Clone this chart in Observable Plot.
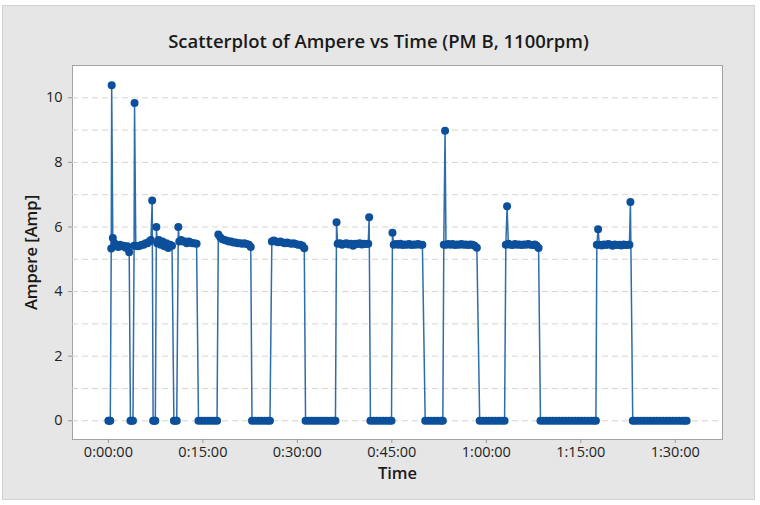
<!DOCTYPE html>
<html>
<head>
<meta charset="utf-8">
<script src="https://cdn.jsdelivr.net/npm/d3@7"></script>
<script src="https://cdn.jsdelivr.net/npm/@observablehq/plot@0.6"></script>
<style>
  html, body { margin: 0; padding: 0; background: #ffffff; }
  #wrap { position: relative; width: 760px; height: 505px; overflow: hidden; font-family: "Open Sans", "Noto Sans", sans-serif; }
  #panel { position: absolute; left: 2px; top: 5px; width: 751px; height: 493px; background: #e6e6e6; border: 1px solid #d2d2d2; }
  #title { position: absolute; left: 0; top: 0; width: 757px; height: 55px; box-sizing: border-box; padding-top: 30px;
           text-align: center; font-size: 18.5px; font-weight: 600; line-height: 22px; color: #1a1a1a; }
  #chart { position: absolute; left: 0; top: 55px; }
</style>
</head>
<body>
<div id="wrap">
  <div id="panel"></div>
  <div id="title">Scatterplot of Ampere vs Time (PM B, 1100rpm)</div>
  <div id="chart"></div>
</div>
<script>
// Time in minutes from start; Ampere readings
const times = [
  0, 0.15, 0.3,
  0.45, 0.52, 0.7, 0.95, 1.25, 1.55, 1.85, 2.15, 2.45, 2.75, 3.0, 3.3,
  3.5, 3.7, 3.9,
  4.08, 4.15, 4.35, 4.7, 5.0, 5.3, 5.6, 5.9, 6.2, 6.5, 6.75, 6.95,
  7.1, 7.3, 7.45,
  7.62, 7.75, 8.0, 8.3, 8.6, 8.9, 9.2, 9.5, 9.8, 10.1,
  10.4, 10.6, 10.85,
  11.1, 11.25, 11.55, 11.85, 12.15, 12.45, 12.75, 13.05, 13.35, 13.65, 14.0,
  14.3, 14.8, 15.3, 15.8, 16.3, 16.8, 17.25,
  17.45, 17.75, 18.1, 18.45, 18.8, 19.15, 19.5, 19.85, 20.2, 20.55, 20.9, 21.25, 21.6, 21.95, 22.3, 22.6,
  22.8, 23.3, 23.8, 24.3, 24.8, 25.3, 25.65,
  25.95, 26.25, 26.6, 26.95, 27.3, 27.65, 28.0, 28.35, 28.7, 29.05, 29.4, 29.75, 30.1, 30.45, 30.8, 31.1,
  31.3, 31.8, 32.3, 32.8, 33.3, 33.8, 34.3, 34.8, 35.3, 35.75, 36.05,
  36.22, 36.4, 36.75, 37.1, 37.45, 37.8, 38.15, 38.5, 38.85, 39.2, 39.55, 39.9, 40.25, 40.6, 40.95, 41.25, 41.4,
  41.6, 42.1, 42.6, 43.1, 43.6, 44.1, 44.6, 44.95,
  45.1, 45.3, 45.65, 46.0, 46.35, 46.7, 47.05, 47.4, 47.75, 48.1, 48.45, 48.8, 49.15, 49.5, 49.85,
  50.3, 50.8, 51.3, 51.8, 52.3, 52.8, 53.1,
  53.25, 53.45, 53.6, 53.95, 54.3, 54.65, 55.0, 55.35, 55.7, 56.05, 56.4, 56.75, 57.1, 57.45, 57.8, 58.15, 58.5,
  58.95, 59.45, 59.95, 60.45, 60.95, 61.45, 61.95, 62.45, 62.9,
  63.1, 63.3, 63.5, 63.85, 64.2, 64.55, 64.9, 65.25, 65.6, 65.95, 66.3, 66.65, 67.0, 67.35, 67.7, 68.0, 68.3,
  68.6, 69.1, 69.6, 70.1, 70.6, 71.1, 71.6, 72.1, 72.6, 73.1, 73.6, 74.1, 74.6, 75.1, 75.6, 76.1, 76.6, 77.05, 77.4,
  77.55, 77.75, 77.95, 78.3, 78.65, 79.0, 79.35, 79.7, 80.05, 80.4, 80.75, 81.1, 81.45, 81.8, 82.15, 82.5, 82.72, 82.88,
  83.25, 83.6, 84.1, 84.6, 85.1, 85.6, 86.1, 86.6, 87.1, 87.6, 88.1, 88.6, 89.1, 89.6, 90.1, 90.6, 91.1, 91.5, 91.8
];
const amps = [
  0, 0, 0,
  5.33, 10.39, 5.66, 5.5, 5.45, 5.38, 5.45, 5.4, 5.42, 5.36, 5.4, 5.22,
  0, 0, 0,
  5.42, 9.84, 5.42, 5.4, 5.42, 5.45, 5.45, 5.5, 5.5, 5.55, 5.6, 6.82,
  0, 0, 0,
  6.0, 5.5, 5.6, 5.45, 5.55, 5.4, 5.5, 5.35, 5.45, 5.42,
  0, 0, 0,
  6.0, 5.55, 5.6, 5.55, 5.55, 5.5, 5.55, 5.52, 5.5, 5.5, 5.48,
  0, 0, 0, 0, 0, 0, 0,
  5.77, 5.68, 5.62, 5.6, 5.57, 5.55, 5.55, 5.52, 5.52, 5.5, 5.5, 5.48, 5.5, 5.47, 5.45, 5.38,
  0, 0, 0, 0, 0, 0, 0,
  5.55, 5.58, 5.55, 5.53, 5.55, 5.52, 5.5, 5.52, 5.5, 5.48, 5.5, 5.47, 5.45, 5.45, 5.42, 5.34,
  0, 0, 0, 0, 0, 0, 0, 0, 0, 0, 0,
  6.15, 5.48, 5.5, 5.45, 5.48, 5.5, 5.46, 5.48, 5.42, 5.48, 5.47, 5.5, 5.46, 5.48, 5.47, 5.48, 6.3,
  0, 0, 0, 0, 0, 0, 0, 0,
  5.82, 5.45, 5.47, 5.45, 5.48, 5.44, 5.46, 5.45, 5.47, 5.44, 5.46, 5.45, 5.47, 5.45, 5.45,
  0, 0, 0, 0, 0, 0, 0,
  5.45, 8.98, 5.45, 5.47, 5.45, 5.47, 5.44, 5.46, 5.45, 5.47, 5.45, 5.46, 5.44, 5.46, 5.45, 5.42, 5.36,
  0, 0, 0, 0, 0, 0, 0, 0, 0,
  5.45, 6.64, 5.48, 5.45, 5.44, 5.47, 5.45, 5.46, 5.44, 5.46, 5.45, 5.47, 5.45, 5.44, 5.46, 5.42, 5.35,
  0, 0, 0, 0, 0, 0, 0, 0, 0, 0, 0, 0, 0, 0, 0, 0, 0, 0, 0,
  5.45, 5.93, 5.45, 5.43, 5.46, 5.44, 5.47, 5.45, 5.42, 5.46, 5.44, 5.45, 5.43, 5.46, 5.44, 5.45, 5.45, 6.77,
  0, 0, 0, 0, 0, 0, 0, 0, 0, 0, 0, 0, 0, 0, 0, 0, 0, 0, 0
];
const xTicks = [0, 15, 30, 45, 60, 75, 90];           // minutes
const yTicks = [0, 2, 4, 6, 8, 10];
const yGrid = [0, 1, 2, 3, 4, 5, 6, 7, 8, 9, 10];

const data = times.map((t, i) => ({t, a: amps[i]}));
const fmt = m => `${Math.floor(m / 60)}:${String(m % 60).padStart(2, "0")}:00`;

const chart = Plot.plot({
  width: 760,
  height: 450,
  marginLeft: 72,
  marginRight: 38,
  marginTop: 10,
  marginBottom: 66,
  style: {fontFamily: "'Open Sans', 'Noto Sans', sans-serif", background: "transparent", color: "#222"},
  x: {domain: [-5.7, 97.5]},
  y: {domain: [-0.58, 11.0]},
  marks: [
    Plot.frame({fill: "white", stroke: "#a3a3a3"}),
    Plot.ruleY(yGrid, {stroke: "#d9d3cd", strokeDasharray: "6,4", strokeWidth: 1}),
    Plot.axisX({ticks: xTicks, tickFormat: fmt, tickSize: 4, tickPadding: 3, label: null, fontSize: 14.5, stroke: "#999", fill: "#222"}),
    Plot.axisY({ticks: yTicks, tickSize: 4, tickPadding: 6, label: null, fontSize: 14.5, stroke: "#999", fill: "#222"}),
    Plot.line(data, {x: "t", y: "a", stroke: "#2f6cab", strokeWidth: 1.5}),
    Plot.dot(data, {x: "t", y: "a", r: 4, fill: "#0c4f9b", stroke: "none"}),
    Plot.text(["Time"], {frameAnchor: "bottom", lineAnchor: "middle", dy: 34, fontSize: 16.5, fontWeight: 600, fill: "#1a1a1a"}),
    Plot.text(["Ampere [Amp]"], {frameAnchor: "left", textAnchor: "middle", lineAnchor: "middle", rotate: -90, dx: -41, fontSize: 16.5, fontWeight: 600, fill: "#1a1a1a"})
  ]
});
document.getElementById("chart").append(chart);
</script>
</body>
</html>
